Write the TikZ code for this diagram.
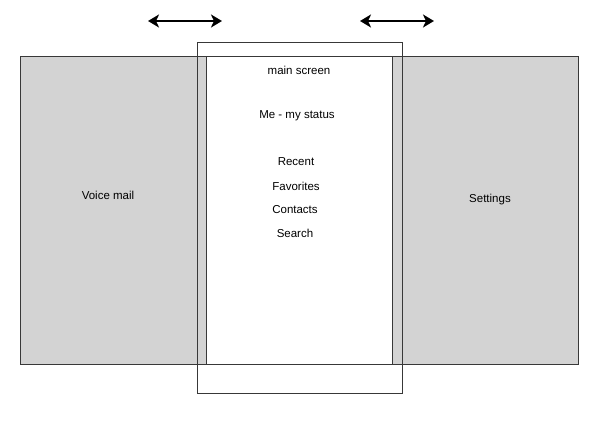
\documentclass[tikz,border=0pt]{standalone}
\usepackage{fontspec}
\setmainfont{Liberation Sans}
\usetikzlibrary{arrows.meta,positioning}
\definecolor{PanelGray}{RGB}{211,211,211}
\definecolor{EdgeGray}{RGB}{56,56,56}

\begin{document}
\begin{tikzpicture}[x=1pt,y=-1pt,
    panel/.style={draw=EdgeGray,fill=PanelGray,line width=1pt,inner sep=0pt,
      minimum width=186pt,minimum height=308pt,anchor=north west},
    screen/.style={panel,fill=white},
    frame/.style={draw=EdgeGray,line width=1pt,inner sep=0pt,
      minimum width=205pt,minimum height=351pt,anchor=north west},
    caption/.style={font=\fontsize{11.5}{13}\selectfont,inner sep=1pt},
    swipe/.style={{Stealth[length=11pt,width=13pt,inset=3pt]}-{Stealth[length=11pt,width=13pt,inset=3pt]},line width=2.2pt}]
  \useasboundingbox (0,0) rectangle (600,422);
  % side panels
  \node[panel] (voice) at (20,56) {};
  \node[panel] (settings) at (392,56) {};
  % main screen
  \node[screen] (main) at (206,56) {};
  \node[frame] (phone) at (197,42) {};
  % labels
  \node[caption] (title) at (299,70) {main screen};
  \node[caption] (status) at (297,116) {Me - my status};
  \node[caption] (recent) at (296,162) {Recent};
  \node[caption] (favorites) at (296,186) {Favorites};
  \node[caption] (contacts) at (295,210) {Contacts};
  \node[caption] (search) at (295,233) {Search};
  \node[caption] (voicelabel) at (108,195) {Voice mail};
  \node[caption] (settingslabel) at (490,200) {Settings};
  % swipe arrows
  \coordinate (swipeLa) at (148,21);
  \coordinate (swipeLb) at (222,21);
  \coordinate (swipeRa) at (360,21);
  \coordinate (swipeRb) at (434,21);
  \draw[swipe] (swipeLa) -- (swipeLb);
  \draw[swipe] (swipeRa) -- (swipeRb);
\end{tikzpicture}
\end{document}
